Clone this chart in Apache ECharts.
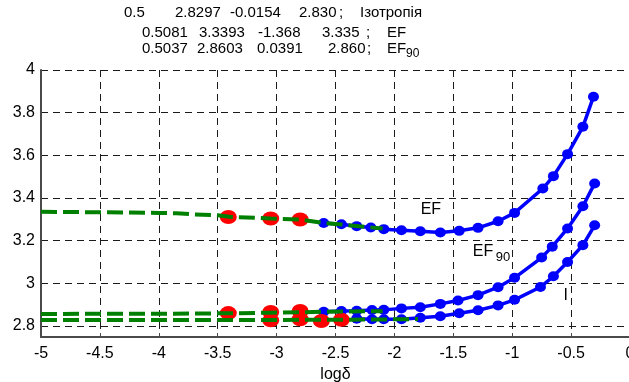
<!DOCTYPE html>
<html>
<head>
<meta charset="utf-8">
<script src="https://cdn.jsdelivr.net/npm/echarts@6/dist/echarts.min.js"></script>
<style>
  html, body { margin: 0; padding: 0; background: #fff; }
  #chart { width: 629px; height: 382px; }
</style>
</head>
<body>
<div id="chart"></div>
<script>
// ---- measured curves (log delta vs. value) ----
const efX   = [-2.60, -2.45, -2.32, -2.20, -2.09, -1.94, -1.78, -1.61, -1.45, -1.29, -1.12, -0.98, -0.74, -0.65, -0.53, -0.40, -0.31];
const efY   = [3.284, 3.278, 3.269, 3.263, 3.255, 3.250, 3.245, 3.239, 3.247, 3.261, 3.292, 3.331, 3.445, 3.503, 3.606, 3.734, 3.875];

const ef90X = [-2.60, -2.45, -2.32, -2.19, -2.09, -1.94, -1.78, -1.61, -1.46, -1.29, -1.12, -0.98, -0.75, -0.66, -0.53, -0.40, -0.30];
const ef90Y = [2.868, 2.872, 2.873, 2.876, 2.877, 2.884, 2.889, 2.905, 2.921, 2.946, 2.983, 3.027, 3.122, 3.173, 3.258, 3.362, 3.469];

const isoX  = [-2.32, -2.19, -2.09, -1.94, -1.78, -1.61, -1.45, -1.29, -1.12, -0.98, -0.76, -0.65, -0.53, -0.40, -0.30];
const isoY  = [2.836, 2.833, 2.833, 2.833, 2.840, 2.847, 2.861, 2.875, 2.898, 2.924, 2.984, 3.034, 3.101, 3.180, 3.273];

// ---- highlighted points ----
const redEfX   = [-3.41, -3.05, -2.80];
const redEfY   = [3.312, 3.305, 3.300];
const redEf90X = [-3.41, -3.05, -2.80];
const redEf90Y = [2.862, 2.867, 2.872];
const redIsoX  = [-3.05, -2.80, -2.62, -2.45];
const redIsoY  = [2.828, 2.833, 2.825, 2.831];

// ---- fitted curves (dashed) ----
const fitEfX   = [-5, -4.5, -4, -3.85, -3.7, -3.5, -3.4, -3.05, -2.8, -2.6, -2.45, -2.3, -2.1];
const fitEfY   = [3.336, 3.334, 3.331, 3.329, 3.324, 3.320, 3.313, 3.305, 3.300, 3.284, 3.277, 3.268, 3.258];
const fitEf90X = [-5, -4, -3.4, -3.05, -2.8, -2.6, -2.1];
const fitEf90Y = [2.858, 2.859, 2.861, 2.864, 2.866, 2.868, 2.871];
const fitIsoX  = [-5, -4, -3, -2.5, -2.1, -1.8];
const fitIsoY  = [2.830, 2.830, 2.830, 2.831, 2.832, 2.834];

// ---- axes ----
const xMin = -5, xMax = 0, xStep = 0.5;
const yMin = 2.75, yMax = 4;
const yTickMin = 2.8, yStep = 0.2;

// ---- header rows: [text, left x] ----
const headerRows = [
  { y: 13, cells: [['0.5', 124], ['2.8297', 175], ['-0.0154', 230], ['2.830', 299], [';', 339], ['Ізотропія', 360]] },
  { y: 33, cells: [['0.5081', 142], ['3.3393', 199], ['-1.368', 258], ['3.335', 322], [';', 366], ['EF', 387]] },
  { y: 49, cells: [['0.5037', 142], ['2.8603', 197], ['0.0391', 257], ['2.860', 328], [';', 367], ['EF', 387]] }
];

const FONT = '"Liberation Sans", Arial, sans-serif';
const zip = (xs, ys) => xs.map((x, i) => [x, ys[i]]);

const gridLine = { type: [7, 5], color: '#1a1a1a', width: 1 };
const axisColor = '#4a4a4a';

const chart = echarts.init(document.getElementById('chart'), null, { renderer: 'canvas' });

function blueSeries(name, xs, ys) {
  return {
    name, type: 'line', xAxisIndex: 0, yAxisIndex: 0,
    data: zip(xs, ys),
    symbol: 'circle', symbolSize: [11, 10], showSymbol: true,
    lineStyle: { color: '#0000ff', width: 3.5 },
    itemStyle: { color: '#0000ff' },
    z: 2, animation: false, silent: true
  };
}
function redSeries(xs, ys) {
  return {
    type: 'scatter', xAxisIndex: 0, yAxisIndex: 0,
    data: zip(xs, ys),
    symbol: 'circle', symbolSize: [17, 14],
    itemStyle: { color: '#ff0000', opacity: 1 },
    z: 3, animation: false, silent: true
  };
}
function greenSeries(xs, ys) {
  return {
    type: 'line', xAxisIndex: 0, yAxisIndex: 0,
    data: zip(xs, ys),
    symbol: 'none',
    lineStyle: { color: '#008000', width: 4, type: [16, 6] },
    z: 4, animation: false, silent: true
  };
}

const headerGraphics = [];
headerRows.forEach(row => {
  row.cells.forEach(([t, x]) => {
    headerGraphics.push({
      type: 'text', x: x, y: row.y, silent: true,
      style: { text: t, fill: '#000', font: '15px ' + FONT, textAlign: 'left', textVerticalAlign: 'middle' }
    });
  });
});
// subscript of the third header row
headerGraphics.push({
  type: 'text', x: 406, y: 54, silent: true,
  style: { text: '90', fill: '#000', font: '12px ' + FONT, textAlign: 'left', textVerticalAlign: 'middle' }
});

chart.setOption({
  animation: false,
  backgroundColor: '#fff',
  grid: [
    { left: 41, width: 589, top: 70, bottom: 45, containLabel: false, outerBoundsMode: 'none' },
    { left: 41, width: 589, top: 70, height: 256, containLabel: false, outerBoundsMode: 'none' }
  ],
  xAxis: [
    {
      gridIndex: 0, type: 'value', min: xMin, max: xMax, interval: xStep,
      axisLine: { show: true, onZero: false, lineStyle: { color: axisColor, width: 2 } },
      axisTick: { show: true, inside: true, length: 4, lineStyle: { color: axisColor } },
      axisLabel: { color: '#000', fontSize: 16, fontFamily: FONT, margin: 9, hideOverlap: false },
      splitLine: { show: true, lineStyle: gridLine },
      name: 'logδ', nameLocation: 'middle', nameGap: 26,
      nameTextStyle: { color: '#000', fontSize: 16, fontFamily: FONT }
    },
    { gridIndex: 1, type: 'value', min: xMin, max: xMax, show: false }
  ],
  yAxis: [
    {
      gridIndex: 0, type: 'value', min: yMin, max: yMax,
      axisLine: { show: true, onZero: false, lineStyle: { color: axisColor, width: 2 } },
      axisTick: { show: false }, axisLabel: { show: false }, splitLine: { show: false }
    },
    {
      gridIndex: 1, type: 'value', min: yTickMin, max: yMax, interval: yStep,
      axisLine: { show: false },
      axisTick: { show: true, inside: true, length: 4, lineStyle: { color: axisColor } },
      axisLabel: { color: '#000', fontSize: 16, fontFamily: FONT, margin: 6 },
      splitLine: { show: true, lineStyle: gridLine }
    }
  ],
  series: [
    blueSeries('EF', efX, efY),
    blueSeries('EF90', ef90X, ef90Y),
    blueSeries('I', isoX, isoY),
    redSeries(redEfX, redEfY),
    redSeries(redEf90X, redEf90Y),
    redSeries(redIsoX, redIsoY),
    greenSeries(fitEfX, fitEfY),
    greenSeries(fitEf90X, fitEf90Y),
    greenSeries(fitIsoX, fitIsoY)
  ]
});

// curve annotations placed in data coordinates
const notes = [
  { text: 'EF', at: [-1.69, 3.348], size: 16, align: 'center' },
  { text: 'EF', at: [-1.335, 3.150], size: 16, align: 'left' },
  { text: '90', at: [-1.335, 3.124], size: 13, align: 'left', dx: 23 },
  { text: 'I',  at: [-0.545, 2.945], size: 16, align: 'center' }
];
const noteGraphics = notes.map(n => {
  const p = chart.convertToPixel({ gridIndex: 0 }, n.at);
  return {
    type: 'text', x: p[0] + (n.dx || 0), y: p[1], silent: true,
    style: { text: n.text, fill: '#000', font: n.size + 'px ' + FONT, textAlign: n.align, textVerticalAlign: 'middle' }
  };
});

chart.setOption({ graphic: headerGraphics.concat(noteGraphics) });
</script>
</body>
</html>
